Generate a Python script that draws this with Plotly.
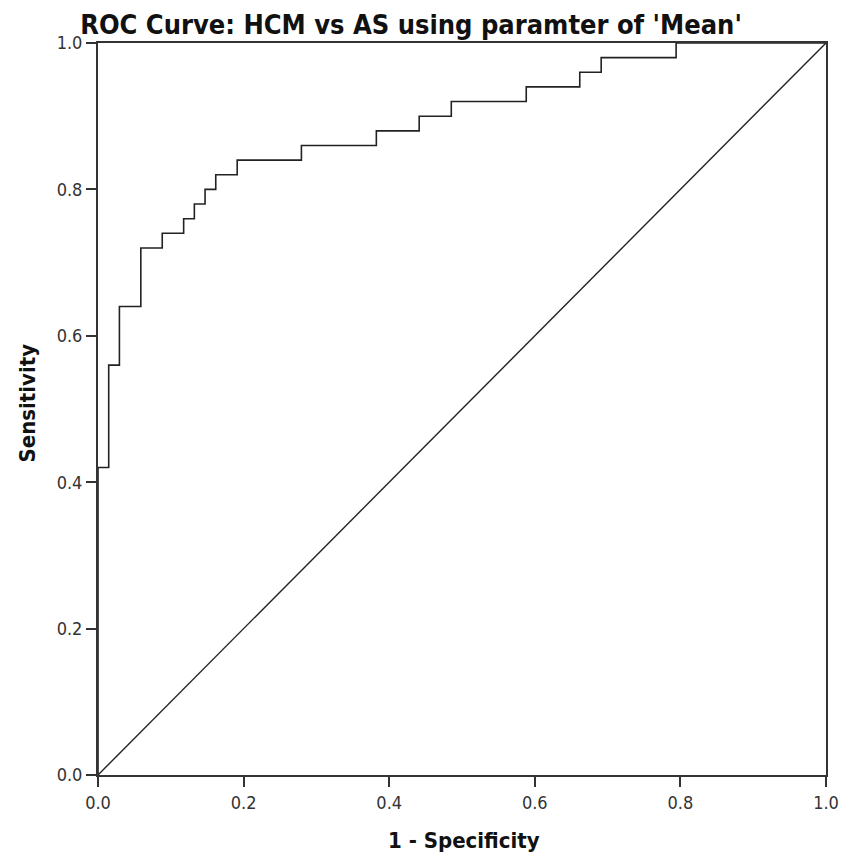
import plotly.graph_objects as go

# ROC operating points (1 - specificity, sensitivity); 68 negatives, 50 positives
fpr_counts = [0, 0, 1, 1, 2, 2, 4, 4, 6, 6, 8, 8, 9, 9, 10, 10, 11, 11, 13, 13,
              19, 19, 26, 26, 30, 30, 33, 33, 40, 40, 45, 45, 47, 47, 54, 54, 68]
tpr_counts = [0, 21, 21, 28, 28, 32, 32, 36, 36, 37, 37, 38, 38, 39, 39, 40, 40, 41, 41, 42,
              42, 43, 43, 44, 44, 45, 45, 46, 46, 47, 47, 48, 48, 49, 49, 50, 50]
n_negative = 68
n_positive = 50

one_minus_spec = [c / n_negative for c in fpr_counts]
sensitivity = [c / n_positive for c in tpr_counts]

ref_line = [0.0, 1.0]
tick_vals = [0.0, 0.2, 0.4, 0.6, 0.8, 1.0]
tick_text = ["0.0", "0.2", "0.4", "0.6", "0.8", "1.0"]

FONT = "DejaVu Sans Condensed, Liberation Sans Narrow, DejaVu Sans"
LINE = "#222222"

fig = go.Figure()
fig.add_trace(go.Scatter(x=ref_line, y=ref_line, mode="lines",
                         line=dict(color=LINE, width=1.4), showlegend=False,
                         hoverinfo="skip"))
fig.add_trace(go.Scatter(x=one_minus_spec, y=sensitivity, mode="lines",
                         line=dict(color=LINE, width=1.6), showlegend=False))

axis_common = dict(
    range=[0, 1], tickvals=tick_vals, ticktext=tick_text,
    showgrid=False, zeroline=False, showline=True, mirror=True,
    linecolor="#333333", linewidth=2, ticks="outside", ticklen=10,
    tickwidth=1.6, tickcolor="#333333",
    tickfont=dict(family=FONT, size=18, color="#333333"),
)

fig.update_layout(
    width=851, height=860,
    margin=dict(l=98, r=21, t=43, b=85),
    paper_bgcolor="white", plot_bgcolor="white",
    title=dict(text="<b>ROC Curve: HCM vs AS using paramter of 'Mean'</b>",
               x=0.483, xanchor="center", y=0.972, yanchor="middle",
               font=dict(family=FONT, size=27, color="#111111")),
    xaxis=axis_common,
    yaxis=axis_common,
    annotations=[
        dict(text="<b>1 - Specificity</b>", xref="paper", yref="paper",
             x=0.503, y=-0.090, xanchor="center", yanchor="middle",
             showarrow=False, font=dict(family=FONT, size=22, color="#111111")),
        dict(text="<b>Sensitivity</b>", xref="paper", yref="paper",
             x=-0.097, y=0.508, xanchor="center", yanchor="middle", textangle=-90,
             showarrow=False, font=dict(family=FONT, size=22, color="#111111")),
    ],
)

fig.write_html("out.html")
